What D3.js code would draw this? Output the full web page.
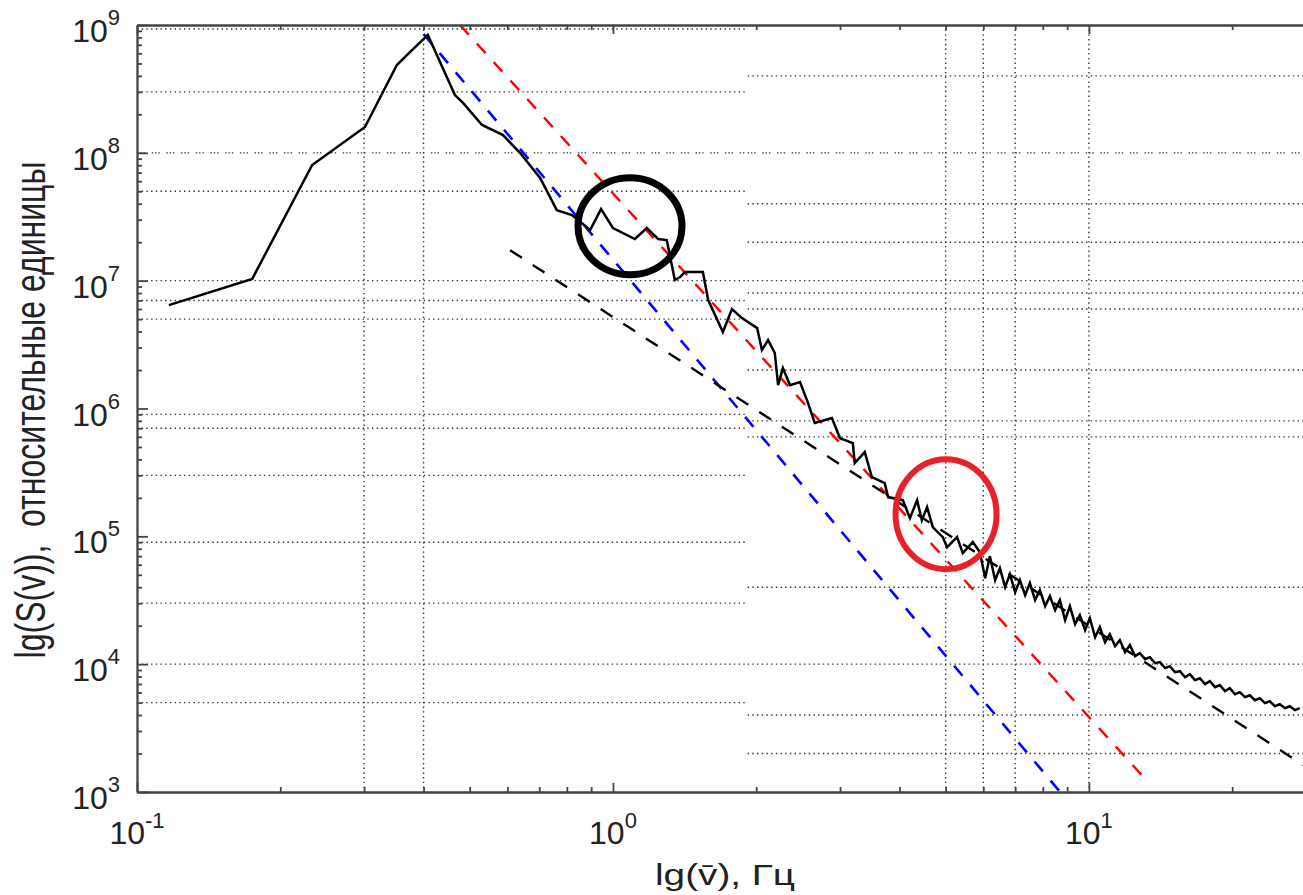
<!DOCTYPE html>
<html lang="ru">
<head>
<meta charset="utf-8">
<script src="https://d3js.org/d3.v7.min.js"></script>
<style>
  body { margin: 0; background: #fff; }
  svg { display: block; font-family: "Liberation Sans", Arial, sans-serif; }
</style>
</head>
<body>
<svg width="1303" height="895"></svg>
<script>
// measured spectrum, stored as lg(frequency, Hz) and lg(S)
var lgFreq = [-0.933, -0.758, -0.632, -0.521, -0.454, -0.433, -0.389, -0.332, -0.315, -0.275,
  -0.231, -0.195, -0.153, -0.118, -0.086, -0.048, -0.025, 0.000, 0.046, 0.071,
  0.095, 0.113, 0.130, 0.141, 0.151, 0.189, 0.200, 0.231, 0.250, 0.271,
  0.303, 0.313, 0.326, 0.340, 0.347, 0.357, 0.372, 0.393, 0.410, 0.424,
  0.460, 0.477, 0.504, 0.508, 0.529, 0.544, 0.571, 0.578, 0.609, 0.624,
  0.639, 0.649, 0.660, 0.672, 0.693, 0.702, 0.723, 0.735, 0.756,
  0.771, 0.782, 0.792, 0.803, 0.813, 0.824, 0.834, 0.845, 0.855, 0.866,
  0.876, 0.887, 0.897, 0.908, 0.918, 0.929, 0.939, 0.950, 0.960, 0.971,
  0.981, 0.992, 1.002, 1.013, 1.023, 1.034, 1.044, 1.055, 1.065, 1.076,
  1.086, 1.097, 1.107, 1.118, 1.128, 1.139, 1.149, 1.160, 1.170, 1.181,
  1.191, 1.202, 1.212, 1.223, 1.233, 1.244, 1.254, 1.265, 1.275, 1.286,
  1.296, 1.307, 1.317, 1.328, 1.338, 1.349, 1.359, 1.370, 1.380, 1.391,
  1.401, 1.412, 1.422, 1.433, 1.443];
var lgS = [6.809, 7.013, 7.905, 8.202, 8.687, 8.765, 8.922, 8.452, 8.390, 8.218,
  8.139, 7.998, 7.803, 7.552, 7.513, 7.396, 7.560, 7.412, 7.326, 7.412,
  7.326, 7.318, 7.005, 7.028, 7.067, 7.067, 6.848, 6.598, 6.778, 6.707,
  6.629, 6.457, 6.535, 6.434, 6.183, 6.316, 6.183, 6.207, 6.042, 5.886,
  5.925, 5.768, 5.729, 5.573, 5.659, 5.463, 5.416, 5.307, 5.283, 5.142,
  5.283, 5.127, 5.228, 5.072, 4.994, 4.915, 4.994, 4.869, 4.955,
  4.876, 4.673, 4.845, 4.657, 4.751, 4.603, 4.704, 4.563, 4.657, 4.540,
  4.634, 4.501, 4.579, 4.454, 4.532, 4.423, 4.501, 4.344, 4.454, 4.313,
  4.383, 4.266, 4.360, 4.211, 4.290, 4.172, 4.235, 4.141, 4.188, 4.094,
  4.149, 4.063, 4.086, 4.039, 4.055, 4.008, 4.016, 3.969, 3.984, 3.937,
  3.945, 3.898, 3.922, 3.875, 3.890, 3.844, 3.867, 3.820, 3.836, 3.789,
  3.812, 3.765, 3.781, 3.742, 3.757, 3.718, 3.734, 3.695, 3.710, 3.671,
  3.687, 3.656, 3.671, 3.640, 3.656];

// power-law fits, end points [frequency, S]
var blueFit = [[0.4, 8.5e8], [8.7, 1e3]];
var redFit = [[0.477, 1e9], [13.3, 1.2e3]];
var blackFit = [[0.608, 1.73e7], [30, 1.4e3]];

// dotted grid as it appears in the figure (left and right parts differ)
var gridX = [0.3, 0.4, 5, 6, 7, 10];
var gridYLeft = [9.3e8, 3e8, 1e8, 5e7, 1e7, 7e6, 5e6, 9e5, 7e5, 3e5, 9e4, 3e4, 1e4, 5e3];
var gridYRight = [4e8, 1e8, 4e7, 2e7, 1e7, 8e6, 6e6, 2e6, 8e5, 6e5, 4e4, 1e4, 4e3, 2e3];
var gridSplit = 1.9;

// tick exponents
var xTickExp = [-1, 0, 1];
var yTickExp = [3, 4, 5, 6, 7, 8, 9];

// highlighted regions (centres)
var blackMark = [1.086, 2.67e7];
var redMark = [5.01, 1.49e5];

var svg = d3.select("svg");

var x = d3.scaleLog().domain([0.1, 30]).range([137, 1316]);
var y = d3.scaleLog().domain([1e3, 1e9]).range([792, 25]);

var pTop = 25, pBottom = 792, pLeft = 137, pRight = 1316;

svg.append("rect").attr("width", 1303).attr("height", 895).attr("fill", "#fff");

svg.append("defs").append("clipPath").attr("id", "plot")
  .append("rect").attr("x", pLeft).attr("y", pTop)
  .attr("width", pRight - pLeft).attr("height", pBottom - pTop);

// grid
var grid = svg.append("g").attr("stroke", "#333").attr("stroke-width", 1.4).attr("fill", "none");
var dots = "1.4,3.3";
var dash3 = "1.4,1.9,1.4,1.9,1.4,6.7";

grid.selectAll(".gl").data(gridYLeft).join("line")
  .attr("x1", pLeft).attr("x2", x(gridSplit))
  .attr("y1", function(d) { return y(d); }).attr("y2", function(d) { return y(d); })
  .attr("stroke-dasharray", function(d) { return d === 1e8 ? dash3 : dots; });

grid.selectAll(".gr").data(gridYRight).join("line")
  .attr("x1", x(gridSplit) + 2).attr("x2", pRight)
  .attr("y1", function(d) { return y(d); }).attr("y2", function(d) { return y(d); })
  .attr("stroke-dasharray", function(d) { return d === 1e8 ? dash3 : dots; });

grid.selectAll(".gx").data(gridX).join("line")
  .attr("x1", function(d) { return x(d); }).attr("x2", function(d) { return x(d); })
  .attr("y1", pTop).attr("y2", pBottom)
  .attr("stroke-dasharray", dots);

// lines
var plot = svg.append("g").attr("clip-path", "url(#plot)");
var fitLine = d3.line().x(function(d) { return x(d[0]); }).y(function(d) { return y(d[1]); });

plot.append("path").datum(blueFit).attr("d", fitLine)
  .attr("fill", "none").attr("stroke", "#0000ff").attr("stroke-width", 2.6)
  .attr("stroke-dasharray", "13,12");
plot.append("path").datum(redFit).attr("d", fitLine)
  .attr("fill", "none").attr("stroke", "#ff0000").attr("stroke-width", 2.4)
  .attr("stroke-dasharray", "13,12");
plot.append("path").datum(blackFit).attr("d", fitLine)
  .attr("fill", "none").attr("stroke", "#000").attr("stroke-width", 2.4)
  .attr("stroke-dasharray", "14,13");

var spectrum = lgFreq.map(function(f, i) { return [Math.pow(10, f), Math.pow(10, lgS[i])]; });
plot.append("path").datum(spectrum).attr("d", fitLine)
  .attr("fill", "none").attr("stroke", "#000").attr("stroke-width", 2.5)
  .attr("stroke-linejoin", "miter");

// circled regions
svg.append("ellipse")
  .attr("cx", x(blackMark[0])).attr("cy", y(blackMark[1]))
  .attr("rx", 52).attr("ry", 48.5)
  .attr("fill", "none").attr("stroke", "#000").attr("stroke-width", 7);
svg.append("ellipse")
  .attr("cx", x(redMark[0])).attr("cy", y(redMark[1]))
  .attr("rx", 50.5).attr("ry", 55)
  .attr("fill", "none").attr("stroke", "#e8202a").attr("stroke-width", 6);

// axes with log minor ticks
function minors(lo, hi) {
  var out = [];
  for (var e = lo; e < hi; e++) for (var m = 2; m <= 9; m++) out.push(m * Math.pow(10, e));
  return out;
}
function majors(lo, hi) { return d3.range(lo, hi + 1).map(function(e) { return Math.pow(10, e); }); }

var xMin = minors(-1, 2).filter(function(v) { return v < 30; });
var yMin = minors(3, 9);

function styleAxis(g) {
  g.selectAll("path, line").attr("stroke", "#444").attr("stroke-width", 1.8);
  g.selectAll("text").remove();
}

svg.append("g").attr("transform", "translate(" + pLeft + ",0)")
  .call(d3.axisRight(y).tickValues(yMin).tickSize(5).tickSizeOuter(0).tickFormat(""))
  .call(styleAxis);
svg.append("g").attr("transform", "translate(" + pLeft + ",0)")
  .call(d3.axisRight(y).tickValues(majors(3, 9)).tickSize(11).tickSizeOuter(0).tickFormat(""))
  .call(styleAxis);

svg.append("g").attr("transform", "translate(0," + pBottom + ")")
  .call(d3.axisTop(x).tickValues(xMin).tickSize(5).tickSizeOuter(0).tickFormat(""))
  .call(styleAxis);
svg.append("g").attr("transform", "translate(0," + pBottom + ")")
  .call(d3.axisTop(x).tickValues(majors(-1, 1)).tickSize(9).tickSizeOuter(0).tickFormat(""))
  .call(styleAxis);

svg.append("g").attr("transform", "translate(0," + pTop + ")")
  .call(d3.axisBottom(x).tickValues(xMin).tickSize(5).tickSizeOuter(0).tickFormat(""))
  .call(styleAxis);
svg.append("g").attr("transform", "translate(0," + pTop + ")")
  .call(d3.axisBottom(x).tickValues(majors(-1, 1)).tickSize(9).tickSizeOuter(0).tickFormat(""))
  .call(styleAxis);

// tick labels 10^n
svg.append("g").selectAll("text").data(yTickExp).join("text")
  .attr("x", 120).attr("y", function(d) { return y(Math.pow(10, d)) + 17; })
  .attr("text-anchor", "end").attr("font-size", 32).attr("fill", "#222")
  .each(function(d) {
    var t = d3.select(this);
    t.append("tspan").text("10");
    t.append("tspan").attr("dy", -17).attr("font-size", 22).text(d);
  });

svg.append("g").selectAll("text").data(xTickExp).join("text")
  .attr("x", function(d) { return x(Math.pow(10, d)); }).attr("y", 844)
  .attr("text-anchor", "middle").attr("font-size", 32).attr("fill", "#222")
  .each(function(d) {
    var t = d3.select(this);
    t.append("tspan").text("10");
    t.append("tspan").attr("dy", -16).attr("font-size", 22).text(d);
  });

// axis titles
svg.append("text")
  .attr("transform", "translate(45,410) rotate(-90) scale(1,1.3)")
  .attr("text-anchor", "middle").attr("font-size", 32).attr("fill", "#222")
  .style("white-space", "pre")
  .text("lg(S(v)),  относительные единицы");

svg.append("text")
  .attr("x", 725).attr("y", 885)
  .attr("text-anchor", "middle").attr("font-size", 29).attr("fill", "#222")
  .attr("textLength", 140).attr("lengthAdjust", "spacingAndGlyphs")
  .text("lg(v\u0304), Гц");
</script>
</body>
</html>
